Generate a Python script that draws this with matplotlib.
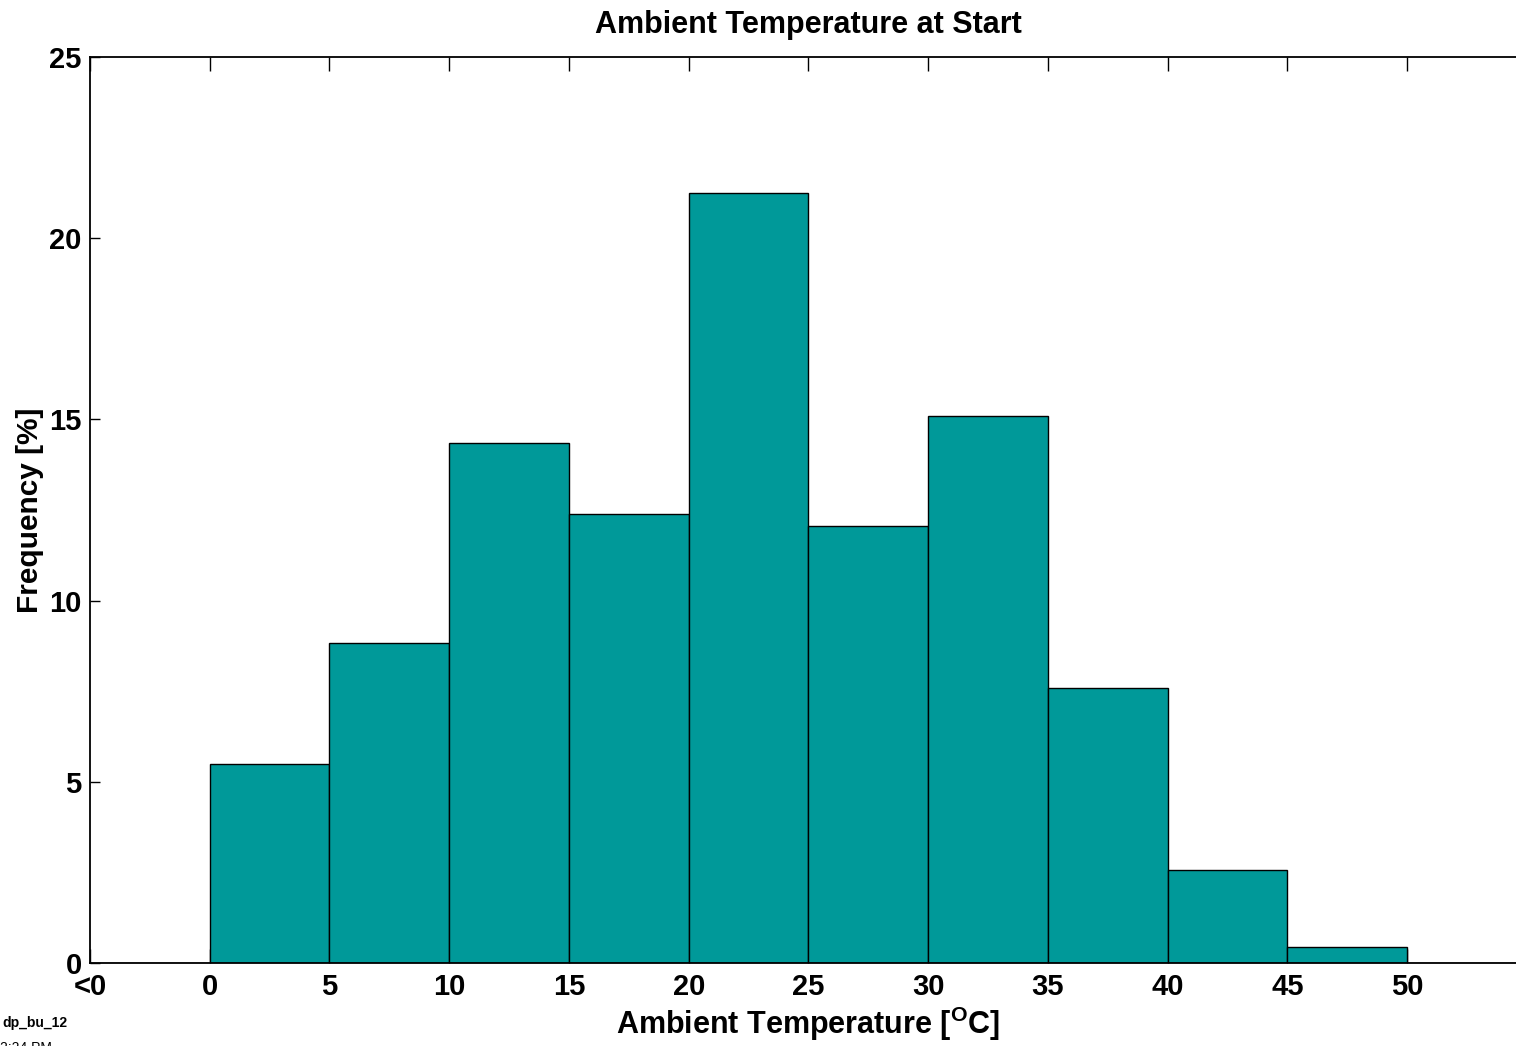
import matplotlib
matplotlib.use("Agg")
import matplotlib.pyplot as plt
import numpy as np

# Data
bin_labels = ["<0", "0", "5", "10", "15", "20", "25", "30", "35", "40", "45", "50"]
frequency = [0.0, 5.5, 8.83, 14.35, 12.4, 21.25, 12.05, 15.1, 7.58, 2.57, 0.44, 0.0]
y_ticks = [0, 5, 10, 15, 20, 25]

plt.rcParams['font.family'] = ['Liberation Sans', 'DejaVu Sans']
plt.rcParams['font.weight'] = 'bold'
plt.rcParams['mathtext.fontset'] = 'custom'
plt.rcParams['mathtext.rm'] = 'Liberation Sans:bold'
plt.rcParams['mathtext.bf'] = 'Liberation Sans:bold'

W, H = 1516, 1046
fig = plt.figure(figsize=(W / 100, H / 100), dpi=100)
left, right, bottom, top = 90, 1527, 963, 57
ax = fig.add_axes([left / W, 1 - bottom / H, (right - left) / W, (bottom - top) / H])

x = np.arange(len(frequency))
ax.bar(x, frequency, width=1.0, align='edge', color='#009999',
       edgecolor='black', linewidth=1.0, zorder=2)

ax.set_xlim(0, 12)
ax.set_ylim(0, 25)
ax.set_xticks(x)
ax.set_xticklabels(bin_labels)
ax.set_yticks(y_ticks)

for s in ax.spines.values():
    s.set_linewidth(1.3)
    s.set_zorder(3)

ax.tick_params(axis='x', direction='in', length=10, width=1, top=True,
               labelsize=21, pad=7)
ax.tick_params(axis='y', direction='in', length=7, width=1, right=True,
               labelsize=21, pad=6)
for lab in ax.get_xticklabels() + ax.get_yticklabels():
    lab.set_fontweight('bold')

ax.set_title("Ambient Temperature at Start", fontsize=22, fontweight='bold', pad=17)
ax.set_xlabel(r"Ambient Temperature [$^{\mathrm{O}}$C]", fontsize=22,
              fontweight='bold', labelpad=3)
ax.set_ylabel("Frequency [%]", fontsize=21.5, fontweight='bold', labelpad=4)

fig.text(2 / W, 1 - 1027 / H, "dp_bu_12", fontsize=10, fontweight='bold',
         ha='left', va='baseline')
fig.text(0 / W, 1 - 1052 / H, "2:24 PM", fontsize=10, fontweight='normal',
         ha='left', va='baseline')

fig.savefig("out.png", dpi=100)
